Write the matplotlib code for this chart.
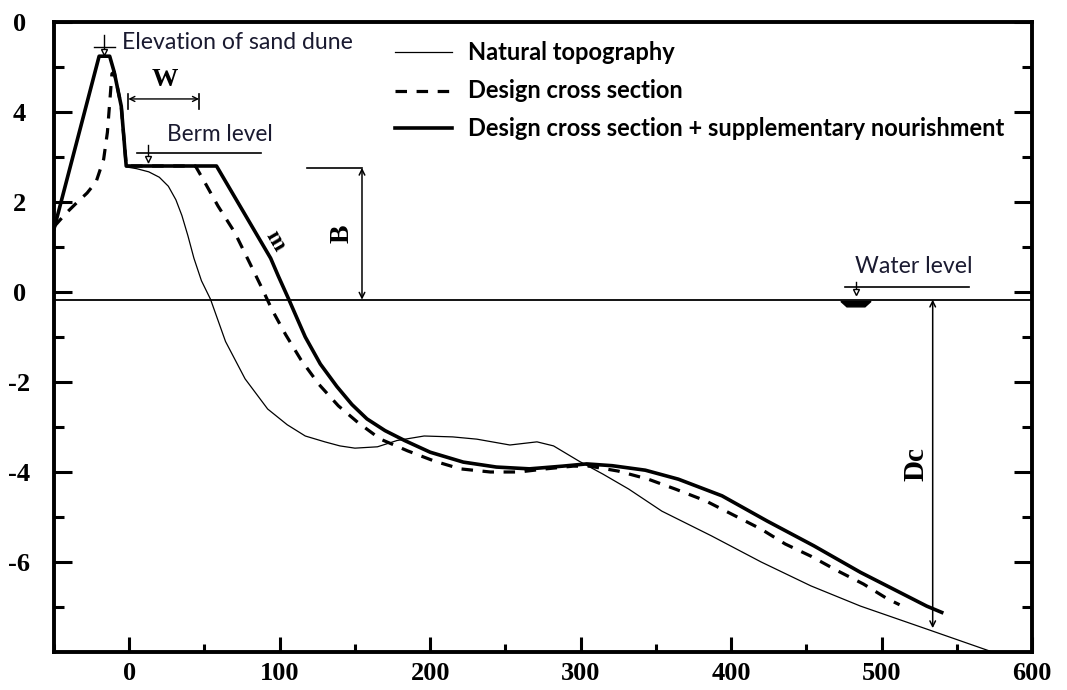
import matplotlib
matplotlib.use("Agg")
import matplotlib.pyplot as plt
from matplotlib.lines import Line2D

# ---------------- data ----------------
natural_x = [-2, 5, 13, 20, 26, 31, 35, 39, 43, 48, 54, 64, 77, 92, 105, 117, 130, 140,
             150, 165, 178, 196, 215, 231, 253, 271, 282, 299, 315, 332, 354, 387, 420,
             453, 486, 530, 572]
natural_y = [2.78, 2.74, 2.67, 2.55, 2.35, 2.05, 1.7, 1.25, 0.75, 0.25, -0.16, -1.1, -1.93,
             -2.6, -2.95, -3.2, -3.33, -3.42, -3.47, -3.44, -3.3, -3.2, -3.22, -3.27, -3.4,
             -3.33, -3.42, -3.76, -4.05, -4.38, -4.87, -5.42, -6.0, -6.53, -6.98, -7.49, -7.98]

design_x = [-50, -42, -35, -28, -22, -17, -14.5, -13, -11.5, -10, -5.3, -2, 44, 50, 59, 70,
            80, 88, 95, 104, 114, 126, 139, 152, 167, 185, 203, 220, 240, 259, 277, 295,
            306, 325, 345, 363, 383, 403, 420, 436, 453, 471, 488, 504, 512]
design_y = [1.45, 1.75, 1.98, 2.2, 2.45, 2.95, 3.55, 4.2, 4.85, 4.89, 4.13, 2.8, 2.8, 2.45,
            1.91, 1.33, 0.65, 0.1, -0.4, -0.95, -1.5, -2.05, -2.53, -2.9, -3.27, -3.53,
            -3.76, -3.93, -4.0, -4.0, -3.93, -3.87, -3.87, -3.98, -4.16, -4.38, -4.64,
            -4.98, -5.27, -5.6, -5.87, -6.2, -6.49, -6.82, -6.95]

nourish_x = [-50, -20, -13, -10, -5.3, -2, 58, 94, 99, 106, 112, 117, 127, 138, 148,
             158, 170, 183, 200, 222, 244, 266, 288, 304, 321, 343, 365, 394, 424, 455,
             486, 530, 540]
nourish_y = [1.4, 5.24, 5.24, 4.89, 4.13, 2.8, 2.8, 0.75, 0.36, -0.16, -0.62, -1.0, -1.6,
             -2.1, -2.5, -2.82, -3.08, -3.3, -3.56, -3.78, -3.89, -3.93, -3.87,
             -3.82, -3.86, -3.96, -4.16, -4.53, -5.09, -5.64, -6.23, -6.98, -7.12]

legend_labels = ["Natural topography", "Design cross section",
                 "Design cross section + supplementary nourishment"]

x_ticks = [0, 100, 200, 300, 400, 500, 600]
x_tick_labels = ["0", "100", "200", "300", "400", "500", "600"]
y_ticks = [6, 4, 2, 0, -2, -4, -6]
y_tick_labels = ["0", "4", "2", "0", "-2", "-4", "-6"]

water_level = -0.17
berm_level = 3.09

# ---------------- figure ----------------
W, H = 1067, 690
fig = plt.figure(figsize=(W / 100, H / 100), dpi=100)
ax = fig.add_axes([54 / W, 38 / H, 978 / W, 630 / H])
ax.set_xlim(-50, 600)
ax.set_ylim(-8, 6)

styles = [dict(color="black", lw=0.9, ls="-"),
          dict(color="black", lw=2.3, ls=(0, (3.6, 3.0))),
          dict(color="black", lw=2.6, ls="-")]

ax.plot(natural_x, natural_y, **styles[0])
ax.plot(design_x, design_y, **styles[1])
ax.plot(nourish_x, nourish_y, **styles[2])

# water level line
ax.axhline(water_level, color="black", lw=1.3)

# ---------------- ticks / spines ----------------
serif = ["Liberation Serif", "DejaVu Serif"]
ax.set_xticks(x_ticks)
ax.set_xticklabels(x_tick_labels, fontfamily=serif, fontweight="bold", fontsize=19)
ax.set_xticks([-50, 50, 150, 250, 350, 450, 550], minor=True)
ax.set_yticks(y_ticks)
ax.set_yticklabels(y_tick_labels, fontfamily=serif, fontweight="bold", fontsize=19)
ax.set_yticks([5, 3, 1, -1, -3, -5, -7], minor=True)
for lab in ax.get_yticklabels():
    lab.set_horizontalalignment("center")
ax.tick_params(axis="both", which="both", direction="in", width=2.2, color="black")
ax.tick_params(axis="x", which="major", length=11, pad=7, top=False)
ax.tick_params(axis="x", which="minor", length=6, top=False)
ax.tick_params(axis="y", which="major", length=13, pad=25, right=True)
ax.tick_params(axis="y", which="minor", length=7.5, right=True)
for s in ax.spines.values():
    s.set_linewidth(2.8)

# ---------------- annotations ----------------
sans = ["Lato", "Open Sans", "DejaVu Sans"]
txt_col = "#1a1a30"

# dune elevation symbol
ax.plot([-16.7, -16.7], [5.29, 5.72], color="black", lw=1.0)
ax.plot([-23.4, -9.4], [5.44, 5.44], color="black", lw=1.0)
ax.plot([-16.7], [5.34], marker="v", ms=5, mfc="white", mec="black", mew=1.0)
t_dune = ax.text(-4.7, 5.55, "Elevation of sand dune", fontfamily=sans, fontsize=13,
                 color=txt_col, ha="left", va="center")

# W dimension
ax.annotate("", xy=(-0.6, 4.29), xytext=(46.4, 4.29),
            arrowprops=dict(arrowstyle="<->", lw=1.0, color="black",
                            shrinkA=0, shrinkB=0, mutation_scale=9))
ax.plot([-0.6, -0.6], [4.07, 4.4], color="black", lw=1.2)
ax.plot([46.4, 46.4], [4.07, 4.4], color="black", lw=1.2)
ax.text(23.8, 4.72, "W", fontfamily=serif, fontweight="bold", fontsize=19,
        ha="center", va="center")

# berm level
ax.plot([5.2, 87.6], [berm_level, berm_level], color="black", lw=1.2)
ax.plot([12.5, 12.5], [2.9, 3.26], color="black", lw=1.0)
ax.plot([12.5], [2.96], marker="v", ms=5, mfc="white", mec="black", mew=1.0)
t_berm = ax.text(25.1, 3.51, "Berm level", fontfamily=sans, fontsize=13,
                 color=txt_col, ha="left", va="center")

# B dimension
ax.plot([118, 154.7], [2.76, 2.76], color="black", lw=1.2)
ax.annotate("", xy=(154.7, 2.76), xytext=(154.7, water_level),
            arrowprops=dict(arrowstyle="<->", lw=1.1, color="black",
                            shrinkA=0, shrinkB=0, mutation_scale=10))
ax.text(141.4, 1.29, "B", fontfamily=serif, fontweight="bold", fontsize=20,
        rotation=90, ha="center", va="center")

# slope m
ax.text(97, 1.13, "m", fontfamily=serif, fontweight="bold", fontsize=17,
        rotation=-60, ha="center", va="center")

# water level symbol
ax.plot([475.6, 558], [0.11, 0.11], color="black", lw=1.2)
ax.plot([483, 483], [-0.05, 0.23], color="black", lw=1.0)
ax.plot([483], [0.0], marker="v", ms=5, mfc="white", mec="black", mew=1.0)
ax.fill([473, 493, 489, 477], [-0.21, -0.21, -0.33, -0.33], color="black")
t_water = ax.text(482.3, 0.56, "Water level", fontfamily=sans, fontsize=13,
                  color=txt_col, ha="left", va="center")

# Dc dimension
ax.annotate("", xy=(534, water_level), xytext=(534, -7.47),
            arrowprops=dict(arrowstyle="<->", lw=1.1, color="black",
                            shrinkA=0, shrinkB=0, mutation_scale=10))
ax.text(523, -3.82, "Dc", fontfamily=serif, fontweight="bold", fontsize=21,
        rotation=90, ha="center", va="center")

# ---------------- legend (manual) ----------------
leg_fam = ["Lato", "Open Sans", "DejaVu Sans"]
leg_rows = [0.952, 0.891, 0.831]
leg_texts = []
for lab, st, yy in zip(legend_labels, styles, leg_rows):
    ax.add_line(Line2D([0.3487, 0.407], [yy, yy], transform=ax.transAxes, **st))
    leg_texts.append(ax.text(0.4233, yy, lab, transform=ax.transAxes, fontfamily=leg_fam,
                             fontweight="bold", fontsize=15, ha="left", va="center"))

# ---------------- fit text widths to reference ----------------
fig.canvas.draw()
r = fig.canvas.get_renderer()
targets = [(t_dune, 230), (t_berm, 105), (t_water, 117)]
for t, wpx in targets:
    w = t.get_window_extent(r).width
    t.set_fontsize(t.get_fontsize() * wpx / w)
w = leg_texts[2].get_window_extent(r).width
fs = 15 * 537 / w
for t in leg_texts:
    t.set_fontsize(fs)

fig.savefig("out.png", dpi=100)
